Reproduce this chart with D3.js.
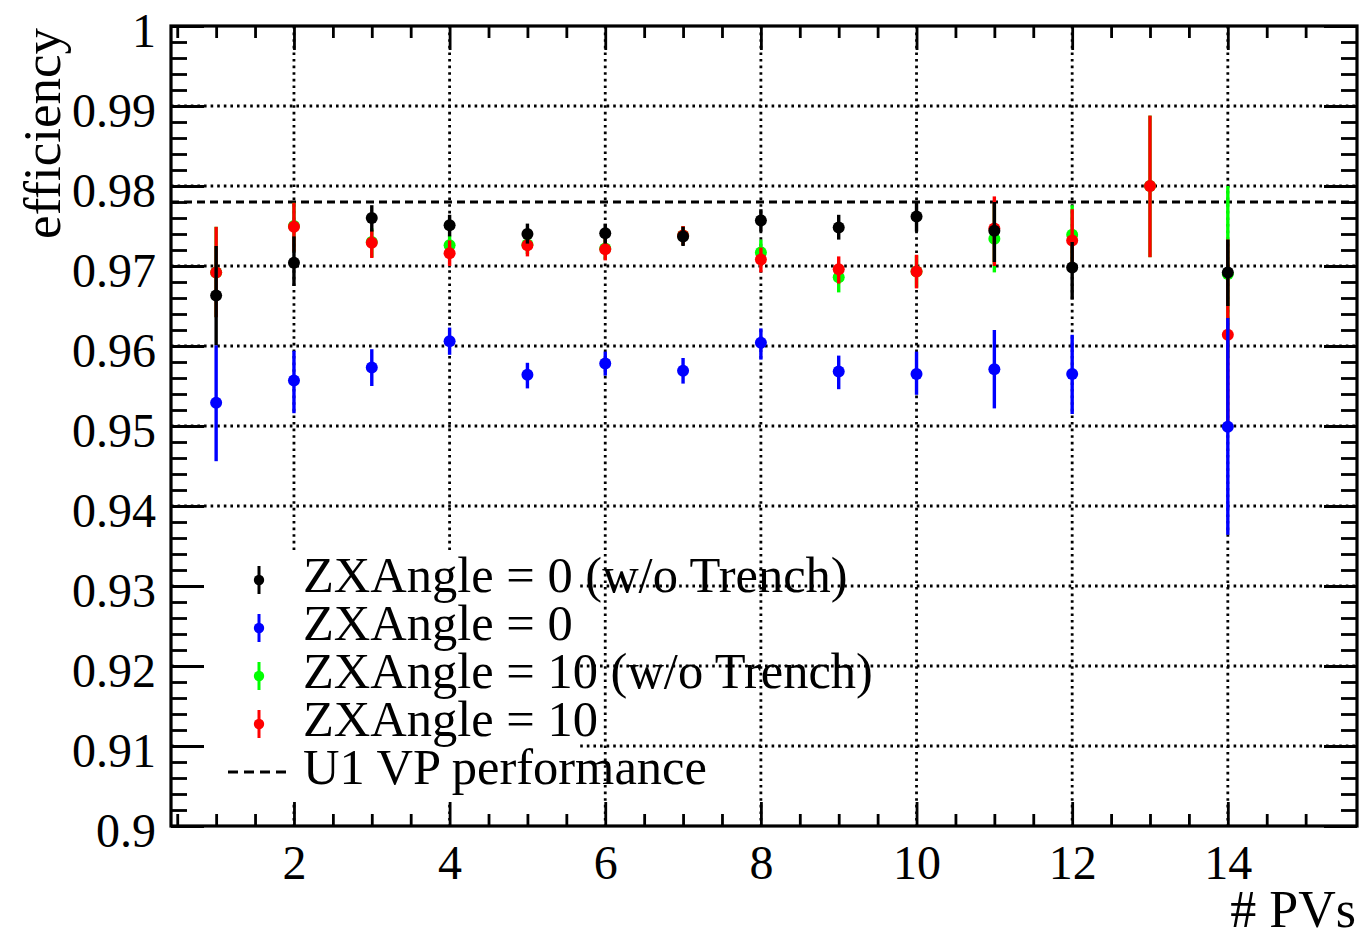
<!DOCTYPE html>
<html>
<head>
<meta charset="utf-8">
<script src="https://cdn.jsdelivr.net/npm/d3@7"></script>
<style>
  body { margin: 0; background: #fff; }
  svg { display: block; }
  text { font-family: "Liberation Serif", "Times New Roman", serif; fill: #000; }
</style>
</head>
<body>
<div id="chart"></div>
<script>
// number of primary vertices per bin
const pvAll = [1, 2, 3, 4, 5, 6, 7, 8, 9, 10, 11, 12, 13, 14];
const pvNo13 = [1, 2, 3, 4, 5, 6, 7, 8, 9, 10, 11, 12, 14];
const u1Performance = 0.978;

// ZXAngle = 0 (w/o Trench)
const eff0NoTrench = [0.9663, 0.9704, 0.9760, 0.9751, 0.9740, 0.9741, 0.9737, 0.9757, 0.9748, 0.9762, 0.9744, 0.9698, 0.9692];
const low0NoTrench = [0.9601, 0.9675, 0.9743, 0.9737, 0.9728, 0.9728, 0.9725, 0.9743, 0.9733, 0.9743, 0.9705, 0.9658, 0.9650];
const high0NoTrench = [0.9725, 0.9737, 0.9776, 0.9764, 0.9753, 0.9753, 0.9749, 0.9771, 0.9764, 0.9780, 0.9780, 0.9730, 0.9733];

// ZXAngle = 0
const eff0 = [0.9529, 0.9557, 0.9573, 0.9606, 0.9564, 0.9578, 0.9569, 0.9604, 0.9568, 0.9565, 0.9571, 0.9565, 0.9499];
const low0 = [0.9456, 0.9516, 0.9550, 0.9589, 0.9547, 0.9563, 0.9553, 0.9583, 0.9546, 0.9539, 0.9522, 0.9515, 0.9364];
const high0 = [0.9601, 0.9594, 0.9596, 0.9623, 0.9579, 0.9593, 0.9585, 0.9622, 0.9588, 0.9593, 0.9620, 0.9614, 0.9635];

// ZXAngle = 10 (w/o Trench)
const eff10NoTrench = [0.9692, 0.9750, 0.9730, 0.9726, 0.9727, 0.9722, 0.9738, 0.9717, 0.9686, 0.9693, 0.9734, 0.9739, 0.9800, 0.9690];
const low10NoTrench = [0.9636, 0.9718, 0.9711, 0.9713, 0.9715, 0.9708, 0.9726, 0.9700, 0.9667, 0.9673, 0.9692, 0.9700, 0.9711, 0.9585];
const high10NoTrench = [0.9749, 0.9779, 0.9747, 0.9738, 0.9739, 0.9735, 0.9750, 0.9733, 0.9701, 0.9713, 0.9778, 0.9776, 0.9888, 0.9800];

// ZXAngle = 10
const eff10 = [0.9692, 0.9749, 0.9729, 0.9716, 0.9726, 0.9721, 0.9738, 0.9708, 0.9696, 0.9693, 0.9747, 0.9732, 0.9800, 0.9614];
const low10 = [0.9636, 0.9718, 0.9710, 0.9700, 0.9712, 0.9707, 0.9726, 0.9692, 0.9678, 0.9672, 0.9700, 0.9695, 0.9711, 0.9500];
const high10 = [0.9749, 0.9779, 0.9745, 0.9732, 0.9738, 0.9734, 0.9750, 0.9723, 0.9712, 0.9714, 0.9787, 0.9771, 0.9888, 0.9733];

const legendLabels = ["ZXAngle = 0 (w/o Trench)", "ZXAngle = 0", "ZXAngle = 10 (w/o Trench)", "ZXAngle = 10", "U1 VP performance"];
const xMajorTicks = [2, 4, 6, 8, 10, 12, 14];
const yMajorTicks = [0.9, 0.91, 0.92, 0.93, 0.94, 0.95, 0.96, 0.97, 0.98, 0.99, 1];
const yTickLabels = ["0.9", "0.91", "0.92", "0.93", "0.94", "0.95", "0.96", "0.97", "0.98", "0.99", "1"];

const width = 1361, height = 939;
const frame = { left: 171, right: 1357, top: 26, bottom: 826 };

const x = d3.scaleLinear().domain([0.42, 15.66]).range([frame.left, frame.right]);
const y = d3.scaleLinear().domain([0.9, 1]).range([frame.bottom, frame.top]);

const xMinor = d3.range(1, 31).map(i => i * 0.5).filter(v => v % 2 !== 0 && x(v) < frame.right - 2);
const yMinor = d3.range(0, 51).map(i => 0.9 + i * 0.002).filter(v => Math.round(v * 1000) % 10 !== 0);

const svg = d3.select('#chart').append('svg').attr('width', width).attr('height', height);

// grid
const grid = svg.append('g').attr('stroke', '#000').attr('stroke-width', 2.8).attr('stroke-dasharray', '2.6,4');
xMajorTicks.forEach(t => grid.append('line').attr('x1', x(t)).attr('x2', x(t)).attr('y1', frame.top).attr('y2', frame.bottom));
yMajorTicks.slice(1, -1).forEach(t => grid.append('line').attr('x1', frame.left).attr('x2', frame.right).attr('y1', y(t)).attr('y2', y(t)));

// legend background hides the grid behind it
svg.append('rect').attr('x', 176).attr('y', 552).attr('width', 402).attr('height', 252).attr('fill', '#fff');

// U1 reference
svg.append('line').attr('x1', frame.left).attr('x2', frame.right).attr('y1', y(u1Performance)).attr('y2', y(u1Performance))
  .attr('stroke', '#000').attr('stroke-width', 3.2).attr('stroke-dasharray', '8,5');

// axes, ticks pointing inwards on all sides
function styleAxis(g) {
  g.select('.domain').remove();
  g.selectAll('.tick line').attr('stroke', '#000').attr('stroke-width', 2.8);
}
svg.append('g').attr('transform', `translate(0,${frame.bottom})`)
  .call(d3.axisBottom(x).tickValues(xMinor).tickSize(-12).tickFormat('')).call(styleAxis);
svg.append('g').attr('transform', `translate(0,${frame.top})`)
  .call(d3.axisTop(x).tickValues(xMinor).tickSize(-12).tickFormat('')).call(styleAxis);
svg.append('g').attr('transform', `translate(0,${frame.top})`)
  .call(d3.axisTop(x).tickValues(xMajorTicks).tickSize(-24).tickFormat('')).call(styleAxis);
const xAxis = svg.append('g').attr('transform', `translate(0,${frame.bottom})`)
  .call(d3.axisBottom(x).tickValues(xMajorTicks).tickSize(-24).tickFormat(d3.format('d'))).call(styleAxis);
xAxis.selectAll('.tick text').attr('y', 53).attr('dy', null).attr('font-size', 48)
  .attr('font-family', '"Liberation Serif", serif').attr('fill', '#000');

svg.append('g').attr('transform', `translate(${frame.left},0)`)
  .call(d3.axisLeft(y).tickValues(yMinor).tickSize(-16).tickFormat('')).call(styleAxis);
svg.append('g').attr('transform', `translate(${frame.right},0)`)
  .call(d3.axisRight(y).tickValues(yMinor).tickSize(-16).tickFormat('')).call(styleAxis);
svg.append('g').attr('transform', `translate(${frame.right},0)`)
  .call(d3.axisRight(y).tickValues(yMajorTicks).tickSize(-33).tickFormat('')).call(styleAxis);
const yAxis = svg.append('g').attr('transform', `translate(${frame.left},0)`)
  .call(d3.axisLeft(y).tickValues(yMajorTicks).tickSize(-33).tickFormat((d, i) => yTickLabels[i])).call(styleAxis);
yAxis.selectAll('.tick text').attr('x', -15).attr('dy', 20).attr('font-size', 48)
  .attr('font-family', '"Liberation Serif", serif').attr('fill', '#000');

// frame
svg.append('rect').attr('x', frame.left).attr('y', frame.top)
  .attr('width', frame.right - frame.left).attr('height', frame.bottom - frame.top)
  .attr('fill', 'none').attr('stroke', '#000').attr('stroke-width', 3.2);

// axis titles
svg.append('text').attr('transform', `translate(60,28) rotate(-90)`).attr('text-anchor', 'end')
  .attr('font-size', 53).text('efficiency');
svg.append('text').attr('x', 1356).attr('y', 927).attr('text-anchor', 'end')
  .attr('font-size', 52).text('# PVs');

// data, drawn in the original layering order
const series = [
  { label: legendLabels[2], color: '#00ff00', pv: pvAll, eff: eff10NoTrench, lo: low10NoTrench, hi: high10NoTrench, row: 2 },
  { label: legendLabels[3], color: '#ff0000', pv: pvAll, eff: eff10, lo: low10, hi: high10, row: 3 },
  { label: legendLabels[1], color: '#0000ff', pv: pvNo13, eff: eff0, lo: low0, hi: high0, row: 1 },
  { label: legendLabels[0], color: '#000000', pv: pvNo13, eff: eff0NoTrench, lo: low0NoTrench, hi: high0NoTrench, row: 0 }
];

series.forEach(s => {
  const pts = s.pv.map((p, i) => ({ p, e: s.eff[i], lo: s.lo[i], hi: s.hi[i] }));
  const g = svg.append('g');
  g.selectAll('line').data(pts).join('line')
    .attr('x1', d => x(d.p)).attr('x2', d => x(d.p))
    .attr('y1', d => y(d.hi)).attr('y2', d => y(d.lo))
    .attr('stroke', s.color).attr('stroke-width', 3.4);
  g.selectAll('circle').data(pts).join('circle')
    .attr('cx', d => x(d.p)).attr('cy', d => y(d.e)).attr('r', 6).attr('fill', s.color);
});

// legend
const legendX = 259, legendTextX = 303, legendTop = 580, legendStep = 48;
const legend = svg.append('g');
series.slice().sort((a, b) => a.row - b.row).forEach(s => {
  const cy = legendTop + s.row * legendStep;
  legend.append('line').attr('x1', legendX).attr('x2', legendX).attr('y1', cy - 14).attr('y2', cy + 14)
    .attr('stroke', s.color).attr('stroke-width', 3);
  legend.append('circle').attr('cx', legendX).attr('cy', cy).attr('r', 5.2).attr('fill', s.color);
  legend.append('text').attr('x', legendTextX).attr('y', cy + 12).attr('font-size', 50.5).text(s.label);
});
const cyRef = legendTop + 4 * legendStep;
legend.append('line').attr('x1', 228).attr('x2', 290).attr('y1', cyRef).attr('y2', cyRef)
  .attr('stroke', '#000').attr('stroke-width', 3).attr('stroke-dasharray', '10,6');
legend.append('text').attr('x', legendTextX).attr('y', cyRef + 12).attr('font-size', 50.5).text(legendLabels[4]);
</script>
</body>
</html>
